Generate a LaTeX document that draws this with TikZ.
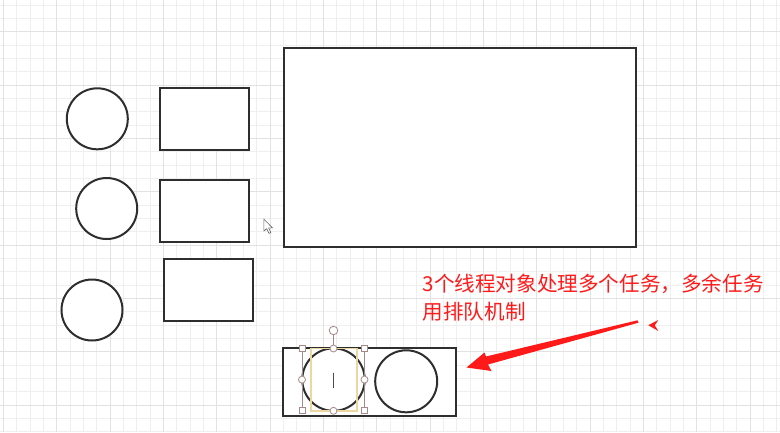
\documentclass[tikz,border=0pt]{standalone}
\usepackage{fontspec}
\newfontfamily\cjk{Noto Sans CJK SC}
\usetikzlibrary{arrows.meta}
\definecolor{gridminor}{HTML}{EFEFEF}
\definecolor{gridmajor}{HTML}{E2E2E2}
\definecolor{shapeline}{HTML}{2E2E2E}
\definecolor{handle}{HTML}{A58A8A}
\definecolor{selyellow}{HTML}{EED6A0}
\definecolor{annred}{HTML}{FF1A1A}
\tikzset{
  minor/.style={draw=gridminor, line width=0.9pt},
  major/.style={draw=gridmajor, line width=0.9pt},
  circ/.style={circle, draw=shapeline, fill=white, line width=2pt, minimum size=61pt, inner sep=0pt},
  box/.style={rectangle, draw=shapeline, fill=white, line width=2pt, inner sep=0pt},
  sqhandle/.style={rectangle, draw=handle, fill=white, line width=0.8pt, minimum size=6pt, inner sep=0pt},
  rdhandle/.style={circle, draw=handle, fill=white, line width=0.8pt, minimum size=7pt, inner sep=0pt},
  anntext/.style={font=\cjk\fontsize{20.6pt}{28pt}\selectfont, text=annred, inner sep=0pt, anchor=base west},
}
\begin{document}
\begin{tikzpicture}[x=1pt, y=-1pt]
\useasboundingbox (0,0) rectangle (780,432);
\fill[white] (0,0) rectangle (780,432);
% grid
\foreach \k in {0,...,58} { \draw[minor] ({3.333+13.333*\k},0) -- ({3.333+13.333*\k},432); }
\foreach \k in {0,...,32} { \draw[minor] (0,{5+13.333*\k}) -- (780,{5+13.333*\k}); }
\foreach \k in {0,...,14} { \draw[major] ({3.333+53.333*\k},0) -- ({3.333+53.333*\k},432); }
\foreach \k in {0,...,7} { \draw[major] (0,{31.667+53.333*\k}) -- (780,{31.667+53.333*\k}); }

% left circles and boxes
\node[circ] (c1) at (97.3,118.8) {};
\node[circ] (c2) at (106.7,208.5) {};
\node[circ] (c3) at (92,310) {};
\node[box, minimum width=89pt, minimum height=62pt] (r1) at (204,118.7) {};
\node[box, minimum width=89pt, minimum height=62pt] (r2) at (204,211) {};
\node[box, minimum width=89pt, minimum height=62pt] (r3) at (208.2,290.2) {};

% big box
\node[box, minimum width=352pt, minimum height=199pt] (big) at (459.5,147.8) {};

% bottom box with two circles
\node[box, minimum width=173pt, minimum height=67.5pt] (queue) at (369.3,382.2) {};
\node[circ, minimum size=62.5pt] (qa) at (333.5,379.6) {};
\node[circ, minimum size=62pt] (qb) at (406.2,381.3) {};

% selection decoration on qa
\draw[selyellow, line width=1.4pt] (311,348.5) rectangle (357,410.8);
\draw[handle, line width=0.7pt] (302,348.5) -- (302,410.8);
\draw[handle, line width=0.7pt] (364.5,348.5) -- (364.5,410.8);
\draw[black!70, line width=0.8pt] (333.5,372.5) -- (333.5,387.5);
\node[rdhandle, minimum size=8.5pt] (rot) at (333.5,330.5) {};
\draw[handle, line width=0.8pt] (rot) -- (333.5,348.5);
\node[sqhandle] (h1) at (302,348.5) {};
\node[sqhandle] (h2) at (364.5,348.5) {};
\node[sqhandle] (h3) at (302,410.8) {};
\node[sqhandle] (h4) at (364.5,410.8) {};
\node[rdhandle] (h5) at (333.5,348.5) {};
\node[rdhandle] (h6) at (302,379.6) {};
\node[rdhandle] (h7) at (364.5,379.6) {};
\node[rdhandle] (h8) at (333.5,410.8) {};

% annotation text
\node[anntext] (t1) at (422.5,291) {3个线程对象处理多个任务，多余任务};
\node[anntext] (t2) at (422.5,319) {用排队机制};

% red arrow
\coordinate (atail) at (638,321.5);
\coordinate (atip) at (466.5,367.5);
\fill[annred] (638.5,322.7) -- (637.5,320.3) -- (486,356.5) -- (484.5,352.5) -- (atip) -- (491.5,371) -- (488,364.5) -- cycle;

% small red mark
\fill[annred] (648.3,325.2) -- (658.3,320) -- (654.8,325.4) -- (658.3,331) -- cycle;

% mouse cursor
\draw[gray!80!black, fill=white, line width=0.6pt, line join=round]
  (263.8,219) -- (263.8,231.2) -- (266.6,228.6) -- (269,233.4) -- (270.9,232.5) -- (268.6,227.9) -- (272.5,227.9) -- cycle;
\end{tikzpicture}
\end{document}
